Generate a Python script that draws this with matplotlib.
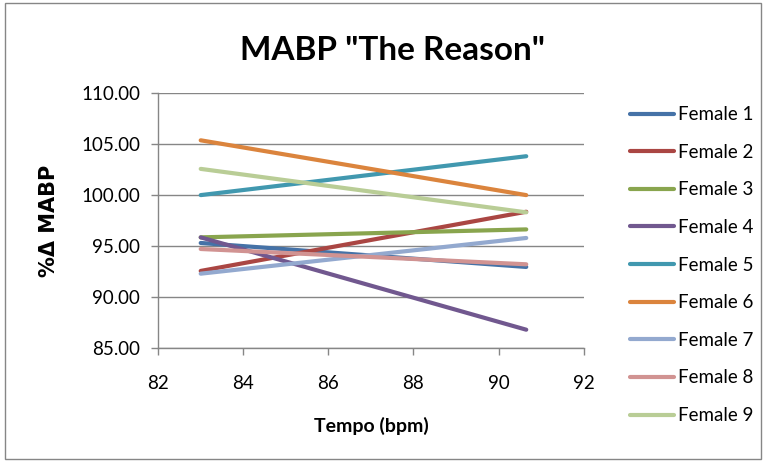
import matplotlib.pyplot as plt
from matplotlib.patches import Rectangle

# data
tempo = [83.0, 90.65]
series_names = ["Female 1", "Female 2", "Female 3", "Female 4", "Female 5",
                "Female 6", "Female 7", "Female 8", "Female 9"]
female_1 = [95.31, 92.96]
female_2 = [92.57, 98.37]
female_3 = [95.86, 96.64]
female_4 = [95.86, 86.81]
female_5 = [100.00, 103.81]
female_6 = [105.37, 100.00]
female_7 = [92.30, 95.80]
female_8 = [94.72, 93.22]
female_9 = [102.57, 98.31]
colors = ["#4572A7", "#AA4643", "#89A54E", "#71588F", "#4198AF",
          "#DB843D", "#93A9CF", "#D19392", "#B9CD96"]

plt.rcParams['font.family'] = ['Lato', 'DejaVu Sans']

fig = plt.figure(figsize=(7.64, 4.63), dpi=100)
ax = fig.add_axes([0.207, 0.248, 0.557, 0.551])

all_series = [female_1, female_2, female_3, female_4, female_5,
              female_6, female_7, female_8, female_9]
for name, vals, c in zip(series_names, all_series, colors):
    ax.plot(tempo, vals, color=c, lw=3, solid_capstyle='round', label=name)

ax.set_xlim(82, 92)
ax.set_ylim(85, 110)
ax.set_xticks(range(82, 93, 2))
ax.set_yticks(range(85, 111, 5))
ax.set_yticklabels([f"{v:.2f}" for v in range(85, 111, 5)])
ax.tick_params(labelsize=13.5, color="#868686", length=5, width=1)
ax.tick_params(axis='y', pad=8)
ax.tick_params(axis='x', pad=14)
ax.yaxis.grid(True, color="#868686", lw=1)
ax.set_axisbelow(True)
for s in ['top', 'right']:
    ax.spines[s].set_visible(False)
for s in ['left', 'bottom']:
    ax.spines[s].set_color("#868686")
    ax.spines[s].set_linewidth(1)

ax.set_title('MABP "The Reason"', fontsize=24, fontweight='bold', x=0.55, pad=24)
ax.set_xlabel("Tempo (bpm)", fontsize=14, fontweight='bold', labelpad=18)
ax.set_ylabel("%\u0394 MABP", fontsize=15, fontweight='bold', labelpad=16,
              family='DejaVu Sans')

fig.legend(loc='upper left', bbox_to_anchor=(0.815, 0.787), frameon=False,
           fontsize=13.5, handlelength=2.35, handletextpad=0.2, labelspacing=1.1,
           borderaxespad=0)

fig.patches.append(Rectangle((0.007, 0.008), 0.989, 0.985, transform=fig.transFigure,
                             fill=False, edgecolor="#868686", lw=1))

fig.savefig("out.png", dpi=100)
